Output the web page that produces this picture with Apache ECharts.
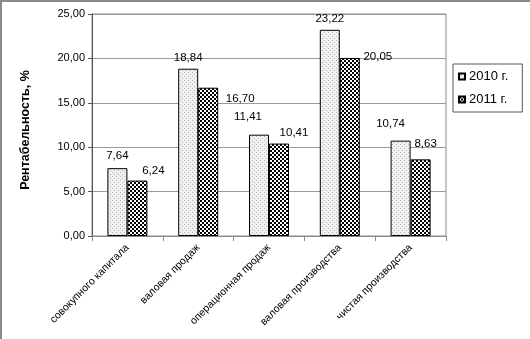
<!DOCTYPE html>
<html>
<head>
<meta charset="utf-8">
<script src="https://cdn.jsdelivr.net/npm/echarts@6/dist/echarts.min.js"></script>
<style>
  html, body { margin: 0; padding: 0; background: #fff; }
  #frame { position: absolute; left: 0; top: 0; width: 530px; height: 339px;
           border-left: 2px solid #8a8a8a; border-top: 2px solid #8a8a8a; box-sizing: border-box; }
  #chart { position: absolute; left: 0; top: 0; width: 530px; height: 339px; }
</style>
</head>
<body>
<div id="chart"></div>
<div id="frame"></div>
<script>
// Рентабельность по видам, %
const categories = ['совокупного капитала', 'валовая продаж', 'операционная продаж', 'валовая производства', 'чистая производства'];
const values2010 = [7.64, 18.84, 11.41, 23.22, 10.74];
const values2011 = [6.24, 16.70, 10.41, 20.05, 8.63];
const seriesNames = ['2010 г.', '2011 г.'];
const yTicks = { min: 0, max: 25, interval: 5 };

// label nudges, pixels [dx, dy]
const offsets2010 = [[0, -1], [0, 0], [-11, -7], [0, 0], [-10, -6]];
const offsets2011 = [[16, 1], [32, 22], [15, 0], [28, 10], [5, -5]];

function makePattern(kind) {
  const c = document.createElement('canvas');
  c.width = 4; c.height = 4;
  const g = c.getContext('2d');
  g.fillStyle = '#ffffff';
  g.fillRect(0, 0, 4, 4);
  if (kind === 'dots') {
    g.fillStyle = '#f0f0f0';
    g.fillRect(0, 0, 4, 4);
    g.fillStyle = '#b8b8b8';
    g.fillRect(0, 0, 1, 1);
    g.fillRect(2, 2, 1, 1);
  } else {
    g.fillStyle = '#000000';
    g.fillRect(0, 0, 2, 2);
    g.fillRect(2, 2, 2, 2);
  }
  return { image: c, repeat: 'repeat' };
}

const fmt = v => v.toFixed(2).replace('.', ',');

function items(vals, offs) {
  return vals.map((v, i) => ({ value: v, label: { offset: offs[i] } }));
}

const chart = echarts.init(document.getElementById('chart'), null, { renderer: 'canvas' });
const font = 'Arial, "Liberation Sans", sans-serif';

const barLabel = {
  show: true, position: 'top', distance: 5,
  fontFamily: font, fontSize: 11.5, color: '#000',
  formatter: p => fmt(p.value)
};

chart.setOption({
  animation: false,
  textStyle: { fontFamily: font },
  grid: { left: 92, right: 84, top: 14, bottom: 103, show: true, borderColor: '#8a8a8a', borderWidth: 1 },
  legend: {
    orient: 'vertical', left: 453, top: 64,
    itemWidth: 6, itemHeight: 6, itemGap: 10, padding: [6, 14, 6, 5],
    borderColor: '#555', borderWidth: 1, backgroundColor: '#fff',
    textStyle: { fontFamily: font, fontSize: 13, color: '#000', padding: [0, 0, 0, -1] },
    data: seriesNames.map(n => ({ name: n, icon: 'rect' }))
  },
  xAxis: {
    type: 'category', data: categories,
    axisLine: { lineStyle: { color: '#8a8a8a' } },
    axisTick: { show: true, length: 5, lineStyle: { color: '#8a8a8a' } },
    axisLabel: { rotate: 45, fontFamily: font, fontSize: 10.5, color: '#000', margin: 10, interval: 0 }
  },
  yAxis: {
    type: 'value', min: yTicks.min, max: yTicks.max, interval: yTicks.interval,
    name: 'Рентабельность, %', nameLocation: 'middle', nameGap: 60,
    nameTextStyle: { fontFamily: font, fontSize: 12.5, fontWeight: 'bold', color: '#000', padding: [0, 10, 0, 0] },
    axisLine: { show: true, lineStyle: { color: '#555' } },
    axisTick: { show: true, length: 4, lineStyle: { color: '#555' } },
    axisLabel: { fontFamily: font, fontSize: 11, color: '#000', margin: 7, formatter: v => fmt(v) },
    splitLine: { lineStyle: { color: '#9a9a9a' } }
  },
  series: [
    {
      name: seriesNames[0], type: 'bar', data: items(values2010, offsets2010),
      barWidth: 20, barGap: '0%',
      itemStyle: { color: makePattern('dots'), borderColor: '#000', borderWidth: 1 },
      label: barLabel
    },
    {
      name: seriesNames[1], type: 'bar', data: items(values2011, offsets2011),
      barWidth: 20, barGap: '0%',
      itemStyle: { color: makePattern('check'), borderColor: '#000', borderWidth: 1 },
      label: barLabel
    }
  ]
});
</script>
</body>
</html>
